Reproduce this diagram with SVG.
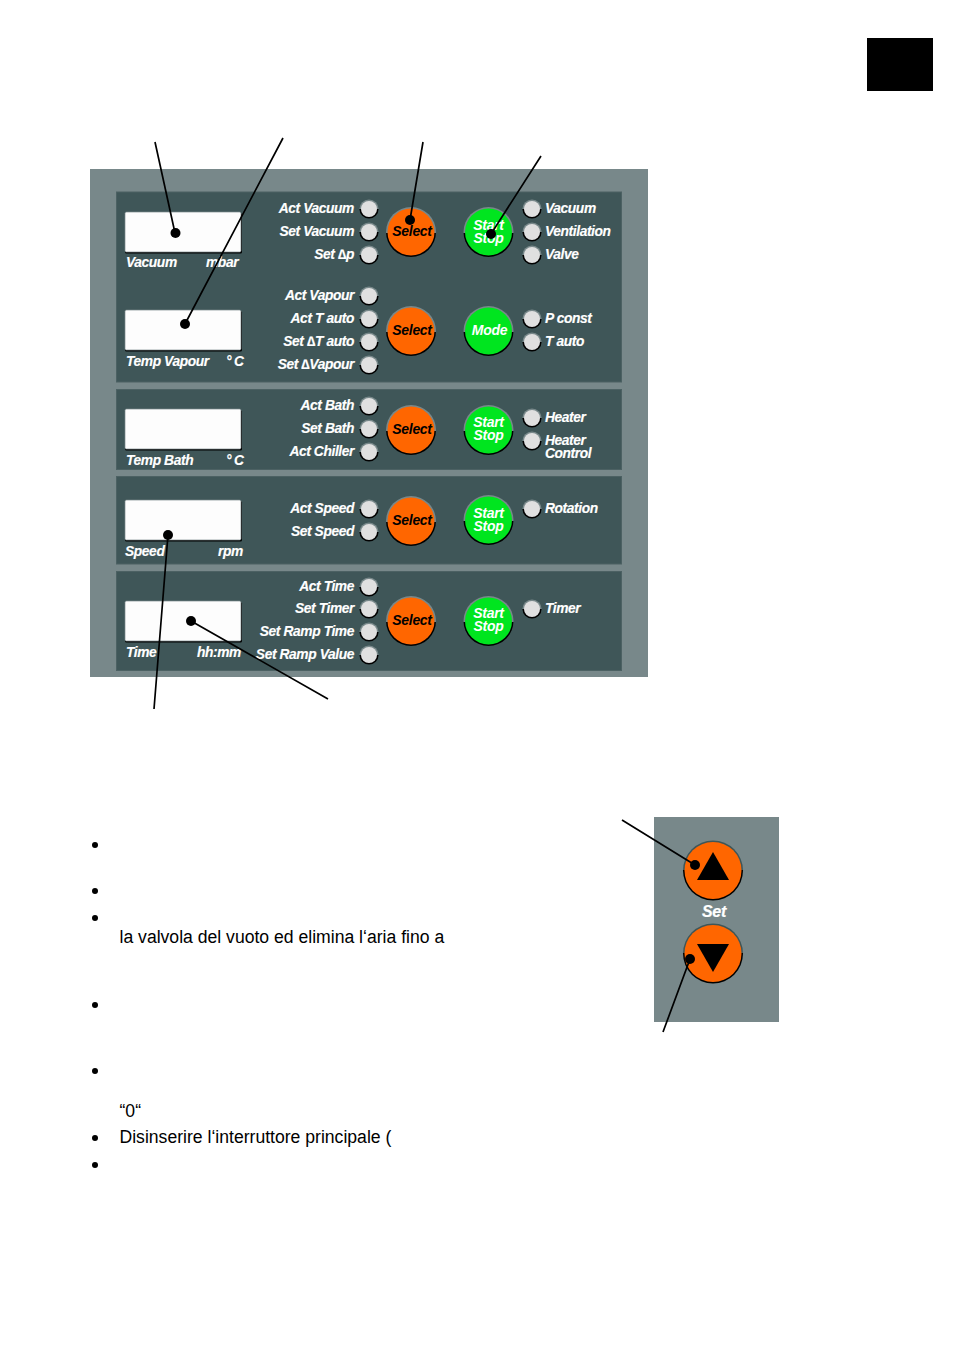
<svg xmlns="http://www.w3.org/2000/svg" width="954" height="1350" viewBox="0 0 954 1350">
<style>
.sec{fill:#3f5658;stroke:#4c6163;stroke-width:1}
.lab{font:italic bold 13.8px "Liberation Sans",Arial,sans-serif;letter-spacing:-.4px;fill:#fff;stroke:#fff;stroke-width:.15;transform:translateY(-.5px)}
.r{text-anchor:end}
.sp{letter-spacing:2.500px}
.btxt{font:italic bold 14px "Liberation Sans",Arial,sans-serif;letter-spacing:-.3px;text-anchor:middle;transform:translateY(-.5px)}
.w{fill:#fff}
.k{fill:#000}
.body{font:17.6px "Liberation Sans",Arial,sans-serif;fill:#000}
.ln{stroke:#000;stroke-width:1.7;fill:none}
.dot{fill:#000}
</style>
<defs>
<linearGradient id="ring" x1="0" y1="0" x2="0" y2="1"><stop offset="0.52" stop-color="#78888a"/><stop offset="0.52" stop-color="#000"/></linearGradient>
<linearGradient id="ring2" x1="0" y1="0" x2="0" y2="1"><stop offset="0.5" stop-color="#3f5658"/><stop offset="0.5" stop-color="#000"/></linearGradient>
<g id="led"><circle r="9.6" fill="url(#ring)"/><circle r="8" fill="#e0e0e0"/></g>
<g id="sel"><circle r="25" fill="url(#ring)"/><circle r="23.5" fill="#f60"/></g>
<g id="go"><circle r="25" fill="url(#ring)"/><circle r="23.5" fill="#00e51f"/></g>
<g id="dsp"><rect x="0" y="1" width="117" height="40.500" rx="1.500" fill="#000"/><rect x="0" y="0" width="116" height="40" rx="1.500" fill="#fdfdfd" stroke="#78888a" stroke-width="0.7"/></g>
</defs>
<rect width="954" height="1350" fill="#fff"/>
<rect id="tab" x="867" y="38" width="66" height="53" fill="#000"/>
<g id="panel">
<rect x="90" y="169" width="558" height="508" fill="#78888a"/>
<rect class="sec" x="116.500" y="192" width="505" height="190"/>
<rect class="sec" x="116.500" y="389.500" width="505" height="80"/>
<rect class="sec" x="116.500" y="476.500" width="505" height="87.500"/>
<rect class="sec" x="116.500" y="571.500" width="505" height="99"/>
</g>
<g id="displays">
<use href="#dsp" x="125" y="212"/><use href="#dsp" x="125" y="310"/><use href="#dsp" x="125" y="409"/><use href="#dsp" x="125" y="500"/><use href="#dsp" x="125" y="601"/>
<text class="lab" x="126" y="267.500">Vacuum</text><text class="lab" x="206" y="267.500">mbar</text>
<text class="lab" x="126" y="366.500">Temp Vapour</text><text class="lab sp" x="226" y="366.500">°C</text>
<text class="lab" x="126" y="465">Temp Bath</text><text class="lab sp" x="226" y="465">°C</text>
<text class="lab" x="125" y="556.500">Speed</text><text class="lab" x="218" y="556.500">rpm</text>
<text class="lab" x="126" y="657">Time</text><text class="lab" x="197" y="657">hh:mm</text>
</g>
<g id="leds-left">
<use href="#led" x="369" y="209"/><use href="#led" x="369" y="232"/><use href="#led" x="369" y="255"/>
<use href="#led" x="369" y="296"/><use href="#led" x="369" y="319"/><use href="#led" x="369" y="342"/><use href="#led" x="369" y="365"/>
<use href="#led" x="369" y="406"/><use href="#led" x="369" y="429"/><use href="#led" x="369" y="452"/>
<use href="#led" x="369" y="509"/><use href="#led" x="369" y="532"/>
<use href="#led" x="369" y="587"/><use href="#led" x="369" y="609"/><use href="#led" x="369" y="632"/><use href="#led" x="369" y="655"/>
<text class="lab r" x="354" y="213.500">Act Vacuum</text><text class="lab r" x="354" y="236">Set Vacuum</text><text class="lab r" x="354" y="259">Set ∆p</text>
<text class="lab r" x="354" y="300.500">Act Vapour</text><text class="lab r" x="354" y="323.500">Act T auto</text><text class="lab r" x="354" y="346.500">Set ∆T auto</text><text class="lab r" x="354" y="369.500">Set ∆Vapour</text>
<text class="lab r" x="354" y="410.500">Act Bath</text><text class="lab r" x="354" y="433.500">Set Bath</text><text class="lab r" x="354" y="456.500">Act Chiller</text>
<text class="lab r" x="354" y="513.500">Act Speed</text><text class="lab r" x="354" y="536.500">Set Speed</text>
<text class="lab r" x="354" y="591.500">Act Time</text><text class="lab r" x="354" y="613.500">Set Timer</text><text class="lab r" x="354" y="636.500">Set Ramp Time</text><text class="lab r" x="354" y="659.500">Set Ramp Value</text>
</g>
<g id="leds-right">
<use href="#led" x="532" y="209"/><use href="#led" x="532" y="232"/><use href="#led" x="532" y="255"/>
<use href="#led" x="532" y="319"/><use href="#led" x="532" y="342"/>
<use href="#led" x="532" y="418"/><use href="#led" x="532" y="441"/>
<use href="#led" x="532" y="509"/><use href="#led" x="532" y="609"/>
<text class="lab" x="545" y="213.500">Vacuum</text><text class="lab" x="545" y="236">Ventilation</text><text class="lab" x="545" y="259">Valve</text>
<text class="lab" x="545" y="323.500">P const</text><text class="lab" x="545" y="346.500">T auto</text>
<text class="lab" x="545" y="422.500">Heater</text><text class="lab" x="545" y="445">Heater</text><text class="lab" x="545" y="458.500">Control</text>
<text class="lab" x="545" y="513.500">Rotation</text><text class="lab" x="545" y="613.500">Timer</text>
</g>
<g id="select-1"><use href="#sel" x="411" y="232"/><text class="btxt k" x="412" y="236.500">Select</text></g>
<g id="select-2"><use href="#sel" x="411" y="331"/><text class="btxt k" x="412" y="335.500">Select</text></g>
<g id="select-3"><use href="#sel" x="411" y="430"/><text class="btxt k" x="412" y="434.500">Select</text></g>
<g id="select-4"><use href="#sel" x="411" y="521"/><text class="btxt k" x="412" y="525.500">Select</text></g>
<g id="select-5"><use href="#sel" x="411" y="621"/><text class="btxt k" x="412" y="625.500">Select</text></g>
<g id="start-1"><use href="#go" x="488.500" y="232"/><text class="btxt w" x="488.500" y="230.500">Start</text><text class="btxt w" x="488.500" y="243">Stop</text></g>
<g id="mode"><use href="#go" x="488.500" y="331"/><text class="btxt w" x="489.500" y="335.500">Mode</text></g>
<g id="start-3"><use href="#go" x="488.500" y="430"/><text class="btxt w" x="488.500" y="427">Start</text><text class="btxt w" x="488.500" y="440">Stop</text></g>
<g id="start-4"><use href="#go" x="488.500" y="520"/><text class="btxt w" x="488.500" y="518">Start</text><text class="btxt w" x="488.500" y="531">Stop</text></g>
<g id="start-5"><use href="#go" x="488.500" y="621"/><text class="btxt w" x="488.500" y="618.500">Start</text><text class="btxt w" x="488.500" y="631.500">Stop</text></g>
<g id="set-panel">
<rect x="654" y="817" width="125" height="205" fill="#78888a"/>
<g id="set-up"><circle cx="713" cy="870.500" r="30" fill="url(#ring2)"/><circle cx="713" cy="870.500" r="28.500" fill="#f60"/><polygon points="713,852 729,880 697,880" fill="#000"/></g>
<text class="btxt w" x="714" y="917.500" style="font-size:16px;stroke:#fff;stroke-width:.2">Set</text>
<g id="set-down"><circle cx="713" cy="953.500" r="30" fill="url(#ring2)"/><circle cx="713" cy="953.500" r="28.500" fill="#f60"/><polygon points="697,944 729,944 713,972" fill="#000"/></g>
</g>
<g id="connectors">
<path class="ln" d="M155 142L175 233M283 138L185 324M423 142L410 220M541 156L491 234M154 709L168 535M328 699L191 621M622 820L695 865M663 1032L690 959"/>
<circle class="dot" cx="175.500" cy="233" r="5"/><circle class="dot" cx="185" cy="324" r="5"/><circle class="dot" cx="410" cy="220" r="5"/><circle class="dot" cx="491" cy="234" r="5"/><circle class="dot" cx="168" cy="535" r="5"/><circle class="dot" cx="191" cy="621" r="5"/><circle class="dot" cx="695" cy="865" r="5"/><circle class="dot" cx="690" cy="959" r="5"/>
</g>
<g id="bullets">
<circle cx="95" cy="845" r="3"/><circle cx="95" cy="891" r="3"/><circle cx="95" cy="918" r="3"/><circle cx="95" cy="1005" r="3"/><circle cx="95" cy="1071" r="3"/><circle cx="95" cy="1138" r="3"/><circle cx="95" cy="1165" r="3"/>
<text class="body" x="119.500" y="943">la valvola del vuoto ed elimina l‘aria fino a</text>
<text class="body" x="119.500" y="1117">“0“</text>
<text class="body" x="119.500" y="1143">Disinserire l‘interruttore principale (</text>
</g>
</svg>
